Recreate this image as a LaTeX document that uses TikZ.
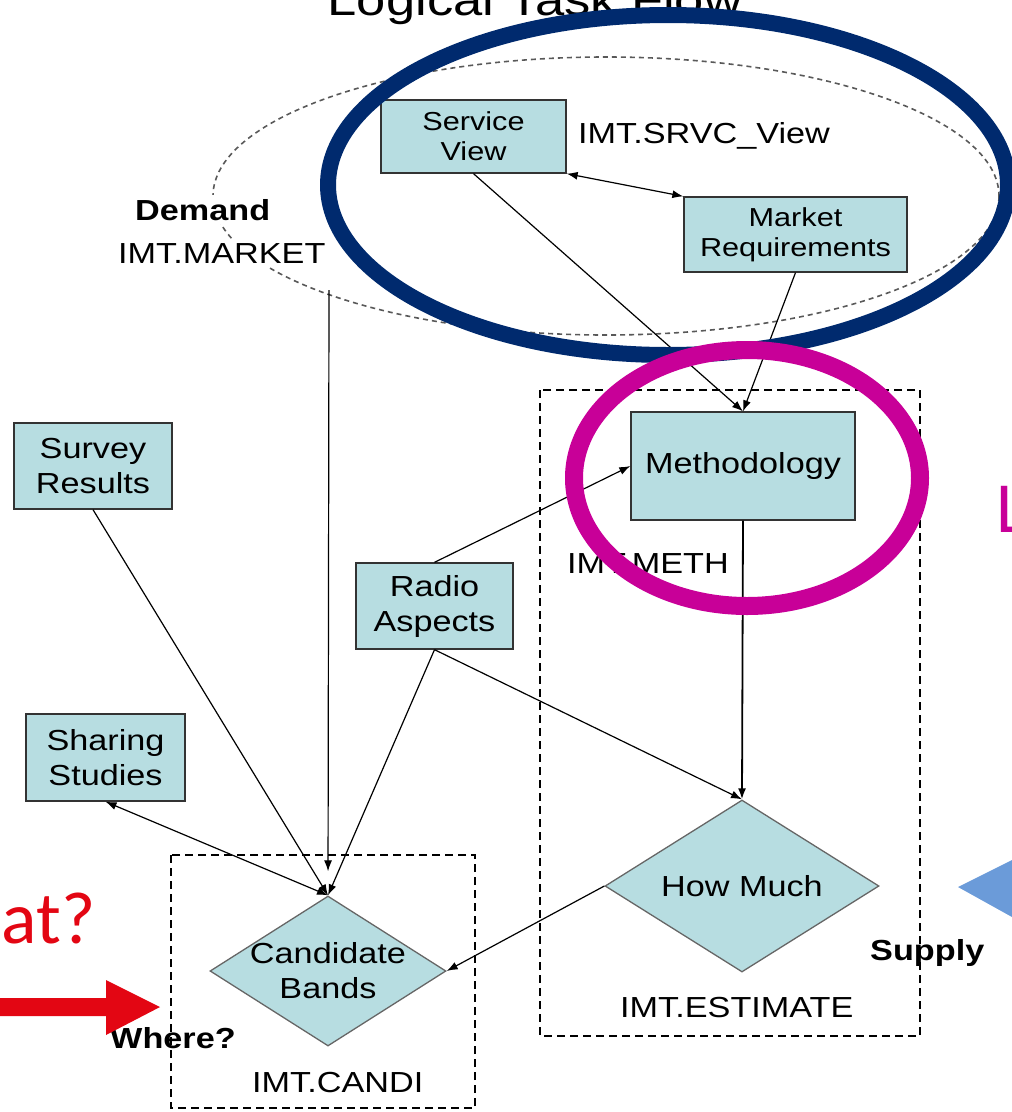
\documentclass[tikz,border=0pt]{standalone}
\usepackage{fontspec}
\setmainfont{Liberation Sans}[FakeStretch=1.18]
\newfontfamily\calloutfont{Carlito}
\usetikzlibrary{shapes.geometric,arrows.meta}
\definecolor{boxfill}{RGB}{183,221,225}
\definecolor{navyring}{RGB}{0,42,110}
\definecolor{pinkring}{RGB}{200,0,152}
\definecolor{callred}{RGB}{227,6,19}
\definecolor{pointblue}{RGB}{107,155,217}

\begin{document}
\begin{tikzpicture}[x=1pt, y=-1pt,
    taskbox/.style={draw=black!80, line width=1.3pt, fill=boxfill, inner sep=0pt,
        align=center, font=\fontsize{29}{35}\selectfont},
    smallbox/.style={taskbox, font=\fontsize{26}{30}\selectfont},
    decision/.style={diamond, draw=black!60, line width=1.3pt, fill=boxfill, inner sep=0pt},
    tag/.style={inner sep=0pt, anchor=base west, font=\fontsize{29}{35}\selectfont},
    flow/.style={-{Latex[length=11pt,width=8pt]}, line width=1.2pt},
    flowboth/.style={{Latex[length=11pt,width=8pt]}-{Latex[length=11pt,width=8pt]}, line width=1.2pt},
    zone/.style={dash pattern=on 8pt off 5pt, line width=1.3pt},
    ring/.style={line width=#1}
]

    % Page frame
    \useasboundingbox (0,0) rectangle (1012,1112);
    \clip (0,0) rectangle (1012,1112);

    % Title (cut at the top)
    \node[inner sep=0pt, anchor=base, font=\fontsize{44.5}{50}\selectfont] (title) at (535,15) {Logical Task Flow};

    % Demand side scope (faint dashed ellipse)
    \draw[black!65, line width=1.6pt, dash pattern=on 5pt off 4pt] (606,196) ellipse [x radius=393, y radius=139];

    % Dashed groups
    \draw[zone] (540,390) rectangle (920,1036);
    \draw[zone] (171,855) rectangle (475,1108);

    % Group labels
    \node[tag, fill=white, inner sep=4pt, font=\bfseries\fontsize{29}{35}\selectfont] (demand) at (131,220) {Demand};
    \node[tag, fill=white, inner sep=4pt] (market) at (114,263) {IMT.MARKET};
    \coordinate (mktfoot) at (329,290);
    \node[tag] (srvc) at (578,143) {IMT.SRVC\_View};
    \node[tag] (methtag) at (567,573) {IMT.METH};
    \node[tag, font=\bfseries\fontsize{29}{35}\selectfont] (supply) at (870,960) {Supply};
    \node[tag] (esttag) at (620,1017) {IMT.ESTIMATE};
    \node[tag, font=\bfseries\fontsize{29}{35}\selectfont] (where) at (110,1048) {Where?};
    \node[tag] (canditag) at (252,1092) {IMT.CANDI};

    % Task boxes
    \node[smallbox, minimum width=185pt, minimum height=73pt] (sv) at (473.5,136.5) {Service\\View};
    \node[smallbox, minimum width=223pt, minimum height=75pt] (mr) at (795.5,234.5) {Market\\Requirements};
    \node[taskbox, minimum width=224pt, minimum height=108pt] (meth) at (743,466) {Methodology};
    \node[taskbox, minimum width=158pt, minimum height=86pt] (sr) at (93,466) {Survey\\Results};
    \node[taskbox, minimum width=157pt, minimum height=86pt] (ra) at (434.5,606) {Radio\\Aspects};
    \node[taskbox, minimum width=159pt, minimum height=87pt] (ss) at (105.5,757.5) {Sharing\\Studies};

    % Decisions
    \node[decision, minimum width=274pt, minimum height=172pt] (hm) at (742,886) {};
    \node[taskbox, draw=none, fill=none] at (hm) {How Much};
    \node[decision, minimum width=236pt, minimum height=150pt] (cb) at (328,971) {};
    \node[taskbox, draw=none, fill=none] at (cb) {Candidate\\Bands};

    % Connectors
    \draw[flowboth] (sv.south east) -- (mr.north west);
    \draw[flow] (sv.south) -- (meth.north);
    \draw[flow] (mr.south) -- (meth.north);
    \draw[flow] (ra.north) -- (meth.west);
    \draw[flow, line width=1.8pt] (meth.south) -- (hm.north);
    \draw[flow] (ra.south) -- (hm.north);
    \draw[flow, shorten >=24pt] (mktfoot) -- (cb.north);
    \draw[flow] (sr.south) -- (cb.north);
    \draw[flow] (ra.south) -- (cb.north);
    \draw[flowboth] (ss.south) -- (cb.north);
    \draw[flow] (hm.west) -- (cb.east);

    % Highlight rings
    \draw[navyring, ring=16pt] (668,185) ellipse [x radius=340, y radius=170];
    \draw[pinkring, ring=18pt] (747,478) ellipse [x radius=173, y radius=128];

    % Callouts at the edges
    \node[inner sep=0pt, anchor=base west, text=pinkring, font=\calloutfont\fontsize{72}{80}\selectfont] (lcut) at (996,532) {L};
    \node[inner sep=0pt, anchor=base east, text=callred, font=\calloutfont\fontsize{74}{80}\selectfont] (whatcut) at (96,943) {at?};
    \fill[callred] (0,998) -- (106,998) -- (106,980) -- (160,1007) -- (106,1035) -- (106,1016) -- (0,1016) -- cycle;
    \fill[pointblue] (958,887) -- (1012,860) -- (1012,917) -- cycle;

\end{tikzpicture}
\end{document}
